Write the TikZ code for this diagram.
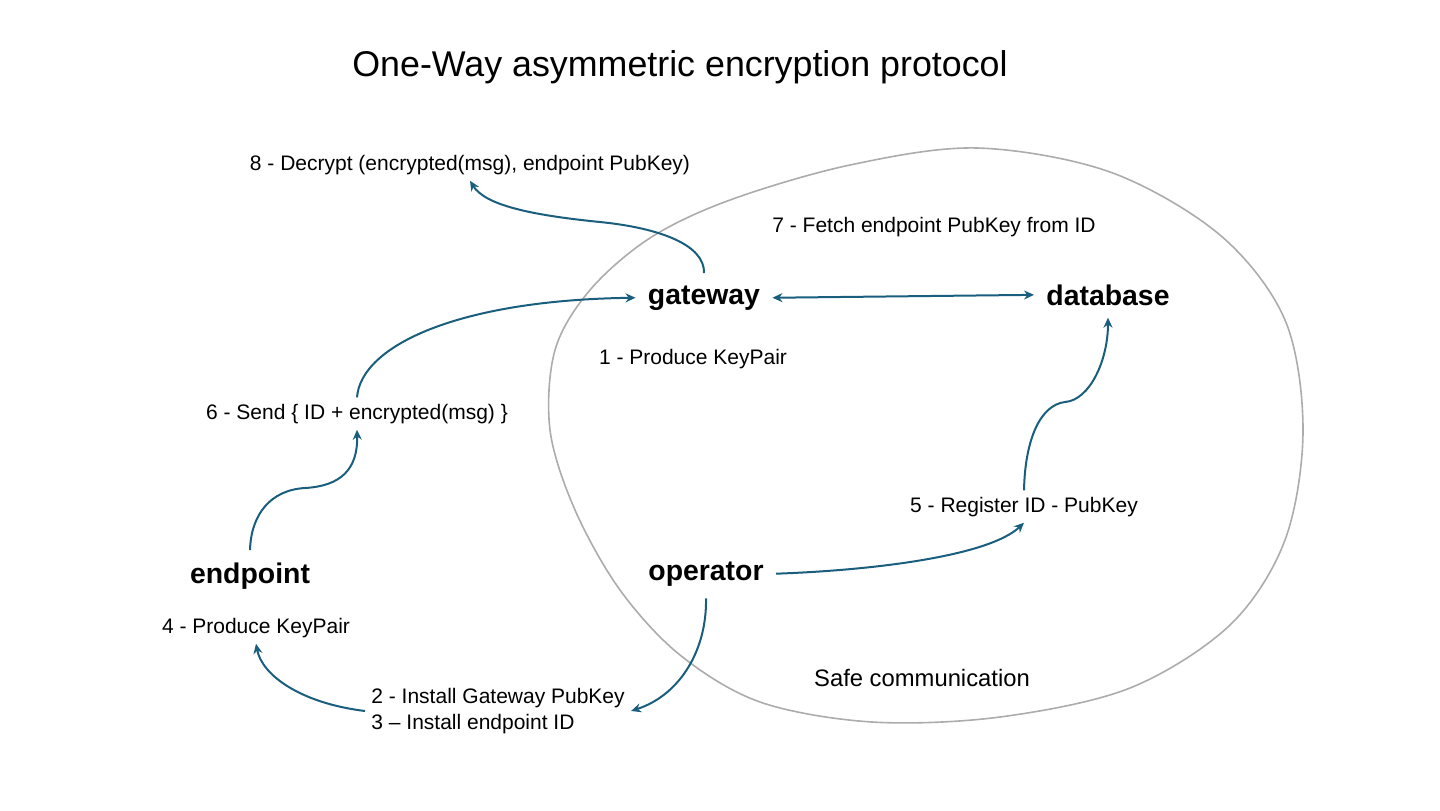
\documentclass[tikz,border=0pt]{standalone}
\usepackage{fontspec}
\setmainfont{Liberation Sans}
\usetikzlibrary{arrows.meta}
\definecolor{flowblue}{RGB}{26,94,126}
\definecolor{zonegray}{RGB}{172,172,172}

\begin{document}
\begin{tikzpicture}[x=0.5pt, y=-0.5pt,
    >={Stealth[length=5pt, width=4.5pt]},
    lbl/.style={inner sep=3pt, anchor=base, font=\fontsize{10.5}{12.6}\selectfont},
    actor/.style={inner sep=6pt, anchor=base, font=\fontsize{14.2}{17}\selectfont\bfseries},
    flow/.style={draw=flowblue, line width=1pt, ->}]
    \useasboundingbox (0,0) rectangle (1440,810);

    % safe zone
    \draw[zonegray, line width=0.8pt] plot[smooth cycle, tension=0.55] coordinates {
      (977,148) (1110,172) (1220,235) (1285,320) (1303,430) (1285,540)
      (1230,625) (1130,688) (1000,717) (872,722) (760,702) (680,655)
      (620,590) (575,510) (550,430) (555,350) (590,290) (650,238)
      (730,200) (850,165)};

    \node[anchor=base, font=\fontsize{17.9}{21}\selectfont] (title) at (680,76)
      {One-Way asymmetric encryption protocol};

    % actors
    \node[actor] (gateway) at (704,304) {gateway};
    \node[actor] (database) at (1108,305) {database};
    \node[actor] (endpoint) at (250,583) {endpoint};
    \node[actor] (operator) at (706,580) {operator};

    % steps
    \node[lbl] (produce1) at (693,364) {1 - Produce KeyPair};
    \node[lbl, anchor=west] (install) at (365,711)
      [align=left] {2 - Install Gateway PubKey\\3 – Install endpoint ID};
    \node[lbl] (produce4) at (256,633) {4 - Produce KeyPair};
    \node[lbl] (register) at (1024,512) {5 - Register ID - PubKey};
    \node[lbl] (send) at (357,419) {6 - Send \{ ID + encrypted(msg) \}};
    \node[lbl] (fetch) at (934,232) {7 - Fetch endpoint PubKey from ID};
    \node[lbl] (decrypt) at (470,170) {8 - Decrypt (encrypted(msg), endpoint PubKey)};
    \node[lbl, font=\fontsize{11.9}{14}\selectfont] (safe) at (922,686) {Safe communication};

    % flows
    \draw[flow] (operator.south) .. controls (707,650) and (680,695) .. (install.east);
    \draw[flow] (install.west) .. controls (300,703) and (262,675) .. (produce4.south);
    \draw[flow] (operator.east) .. controls (880,570) and (990,555) .. (register.south);
    \draw[flow] (register.north) .. controls (1025,440) and (1040,405) .. (1065,402)
      .. controls (1090,400) and (1108,360) .. (database.south);
    \draw[flow] (endpoint.north) .. controls (251,515) and (270,490) .. (305,488)
      .. controls (340,486) and (358,470) .. (send.south);
    \draw[flow] (send.north) .. controls (361,345) and (460,300) .. (gateway.west);
    \draw[flow, <->] (gateway.east) -- (database.west);
    \draw[flow] (gateway.north) .. controls (705,245) and (660,228) .. (600,222)
      .. controls (530,215) and (485,205) .. (decrypt.south);
  \end{tikzpicture}
\end{document}
